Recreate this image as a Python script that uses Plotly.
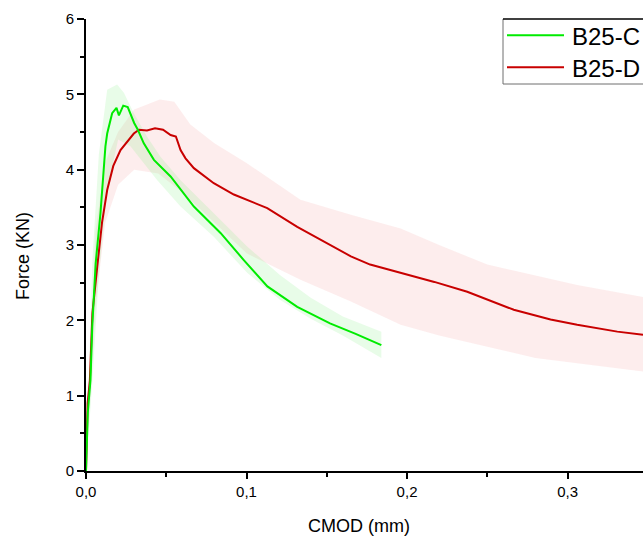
import plotly.graph_objects as go

# ---- data ----
c_x = [0, 0.0011, 0.0028, 0.0039, 0.0060, 0.0090, 0.0121, 0.0132, 0.0163, 0.0190, 0.0205, 0.0232,
       0.0260, 0.0280, 0.0300, 0.0323, 0.0360, 0.0423, 0.0527, 0.0672, 0.0838, 0.0983, 0.1130,
       0.1316, 0.1520, 0.1680, 0.1840]
c_y = [0, 0.77, 1.21, 1.92, 2.75, 3.42, 4.31, 4.48, 4.75, 4.82, 4.72, 4.85,
       4.83, 4.72, 4.62, 4.53, 4.35, 4.13, 3.91, 3.51, 3.16, 2.80, 2.45,
       2.18, 1.96, 1.82, 1.67]
c_up_x = [0, 0.004, 0.008, 0.0132, 0.0194, 0.0236, 0.0298, 0.038, 0.0464, 0.0589, 0.0796,
          0.1004, 0.121, 0.140, 0.160, 0.184]
c_up_y = [0, 2.8, 4.2, 5.06, 5.13, 5.02, 4.75, 4.44, 4.17, 3.86, 3.42,
          2.98, 2.60, 2.30, 2.05, 1.85]
c_lo_x = [0, 0.004, 0.008, 0.013, 0.020, 0.0277, 0.0444, 0.0589, 0.0796, 0.1004, 0.121,
          0.140, 0.160, 0.184]
c_lo_y = [0, 1.2, 2.6, 3.7, 4.4, 4.31, 3.86, 3.51, 3.11, 2.63, 2.27,
          2.02, 1.80, 1.50]

d_x = [0, 0.0010, 0.0024, 0.0040, 0.0070, 0.0100, 0.0132, 0.0170, 0.0215, 0.0298, 0.0330,
       0.0380, 0.0430, 0.0480, 0.0527, 0.0560, 0.0589, 0.0620, 0.0672, 0.0796, 0.0921,
       0.1129, 0.1316, 0.1460, 0.1650, 0.1770, 0.1960, 0.2170, 0.2375, 0.2480, 0.2665,
       0.2894, 0.3060, 0.3310, 0.3470]
d_y = [0, 0.9, 1.2, 2.1, 2.71, 3.3, 3.73, 4.05, 4.26, 4.48, 4.53,
       4.52, 4.55, 4.53, 4.46, 4.44, 4.26, 4.15, 4.02, 3.82, 3.67,
       3.49, 3.24, 3.07, 2.85, 2.74, 2.63, 2.51, 2.38, 2.29, 2.14,
       2.01, 1.94, 1.85, 1.81]
d_up_x = [0, 0.006, 0.012, 0.020, 0.030, 0.046, 0.055, 0.065, 0.080, 0.100, 0.1336,
          0.165, 0.196, 0.220, 0.250, 0.280, 0.306, 0.347]
d_up_y = [0, 3.2, 4.1, 4.5, 4.8, 4.93, 4.9, 4.6, 4.35, 4.09, 3.6,
          3.4, 3.22, 3.0, 2.74, 2.6, 2.47, 2.31]
d_lo_x = [0, 0.006, 0.012, 0.020, 0.030, 0.045, 0.060, 0.080, 0.100, 0.1336,
          0.165, 0.196, 0.220, 0.250, 0.280, 0.306, 0.347]
d_lo_y = [0, 2.2, 3.3, 3.8, 4.0, 3.95, 3.7, 3.3, 2.89, 2.54,
          2.25, 1.94, 1.80, 1.65, 1.50, 1.43, 1.32]

series_names = ["B25-C", "B25-D"]
x_ticks = [0.0, 0.1, 0.2, 0.3]
y_ticks = [0, 1, 2, 3, 4, 5, 6]

GREEN = "rgb(0,235,0)"
RED = "rgb(200,0,0)"
FONT = "Liberation Sans, Arial, sans-serif"

W, H = 643, 539
PL, PT, PB, PR = 86, 19, 471, 643          # plot area in screen pixels
L, R, T, B = PL, W - PR, PT, H - PB
XR = [0, 0.347]
YR = [0, 6]

fig = go.Figure()

# bands
fig.add_trace(go.Scatter(x=d_up_x + d_lo_x[::-1], y=d_up_y + d_lo_y[::-1], fill="toself",
                         fillcolor="rgba(240,140,140,0.16)", line=dict(width=0),
                         mode="lines", showlegend=False, hoverinfo="skip"))
fig.add_trace(go.Scatter(x=c_up_x + c_lo_x[::-1], y=c_up_y + c_lo_y[::-1], fill="toself",
                         fillcolor="rgba(130,240,130,0.18)", line=dict(width=0),
                         mode="lines", showlegend=False, hoverinfo="skip"))
# mean curves
fig.add_trace(go.Scatter(x=d_x, y=d_y, mode="lines", name=series_names[1],
                         line=dict(color=RED, width=2), showlegend=False))
fig.add_trace(go.Scatter(x=c_x, y=c_y, mode="lines", name=series_names[0],
                         line=dict(color=GREEN, width=2), showlegend=False))

pw = PR - PL
ph = PB - PT

def px_x(p):
    return (p - PL) / pw

def px_y(p):
    return (PB - p) / ph

# manual legend (box runs off the right edge, as in the reference)
BORDER = dict(color="rgb(110,110,110)", width=1)
shapes = [
    dict(type="rect", xref="paper", yref="paper", x0=px_x(503), x1=1.0, y0=px_y(84), y1=px_y(19),
         fillcolor="white", line=dict(width=0), layer="above"),
    dict(type="line", xref="paper", yref="paper", x0=px_x(503), x1=px_x(503), y0=px_y(84), y1=px_y(19),
         line=BORDER, layer="above"),
    dict(type="line", xref="paper", yref="paper", x0=px_x(503), x1=1.0, y0=px_y(84), y1=px_y(84),
         line=BORDER, layer="above"),
    dict(type="line", xref="paper", yref="paper", x0=px_x(503), x1=1.0, y0=px_y(19), y1=px_y(19),
         line=dict(color="black", width=1.5), layer="above"),
]
annotations = []
for name, col, yy in [(series_names[0], GREEN, 35.3), (series_names[1], RED, 67.3)]:
    shapes.append(dict(type="line", xref="paper", yref="paper",
                       x0=px_x(507), x1=px_x(564), y0=px_y(yy), y1=px_y(yy),
                       line=dict(color=col, width=2), layer="above"))
    annotations.append(dict(text=name, xref="paper", yref="paper", x=px_x(570), y=px_y(yy + 1),
                            xanchor="left", yanchor="middle", showarrow=False,
                            font=dict(family=FONT, size=24, color="black")))

annotations.append(dict(text="CMOD (mm)", xref="paper", yref="paper", x=px_x(358.5), y=px_y(526),
                        xanchor="center", yanchor="middle", showarrow=False,
                        font=dict(family=FONT, size=18, color="black")))
annotations.append(dict(text="Force (KN)", xref="paper", yref="paper", x=px_x(23), y=px_y(256),
                        xanchor="center", yanchor="middle", showarrow=False, textangle=-90,
                        font=dict(family=FONT, size=18, color="black")))

fig.update_layout(
    width=W, height=H,
    margin=dict(l=L, r=R, t=T, b=B, pad=0),
    paper_bgcolor="white", plot_bgcolor="white",
    separators=", ",
    font=dict(family=FONT, size=15, color="black"),
    showlegend=False,
    shapes=shapes, annotations=annotations,
    xaxis=dict(range=XR, tickvals=x_ticks, tickformat=".1f", ticks="outside", ticklen=6,
               tickwidth=1.5, tickcolor="black", showline=True, linewidth=2, linecolor="black",
               showgrid=False, zeroline=False, tickfont=dict(size=15),
               minor=dict(dtick=0.05, tick0=0, ticks="outside", ticklen=4, tickwidth=1.5,
                          tickcolor="black", showgrid=False)),
    yaxis=dict(range=YR, tickvals=y_ticks, ticks="outside", ticklen=7, tickwidth=1.5,
               tickcolor="black", showline=True, linewidth=2, linecolor="black",
               showgrid=False, zeroline=False, tickfont=dict(size=15),
               minor=dict(dtick=0.5, tick0=0, ticks="outside", ticklen=4, tickwidth=1.5,
                          tickcolor="black", showgrid=False)),
    xaxis2=dict(range=XR, overlaying="x", side="top", anchor="y", dtick=0.05, tick0=0,
                ticks="inside", ticklen=5, tickwidth=1.5, tickcolor="black",
                showticklabels=False, showline=True, linewidth=1.5, linecolor="black",
                showgrid=False, zeroline=False),
    yaxis2=dict(range=YR, overlaying="y", side="right", anchor="x", dtick=1, tick0=0,
                ticks="inside", ticklen=5, tickwidth=1.5, tickcolor="black",
                showticklabels=False, showline=False, showgrid=False, zeroline=False),
)

# remove the default 8px page margin so the figure fills the 643x539 window exactly
page_fix = ("document.documentElement.style.overflow='hidden';"
            "document.body.style.margin='0';document.body.style.overflow='hidden';")
fig.write_html("out.html", post_script=page_fix, config={"displayModeBar": False})
